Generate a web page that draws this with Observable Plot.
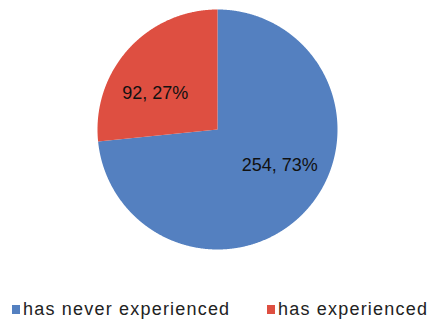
<!DOCTYPE html>
<html>
<head>
<meta charset="utf-8">
<script src="https://cdn.jsdelivr.net/npm/d3@7"></script>
<script src="https://cdn.jsdelivr.net/npm/@observablehq/plot@0.6"></script>
<style>
  html, body { margin: 0; padding: 0; background: #fff; }
  #wrap { position: relative; width: 429px; height: 321px; overflow: hidden; font-family: "Liberation Sans", Arial, sans-serif; }
  #chart svg { display: block; }
  .leg { position: absolute; top: 299px; display: flex; align-items: center; font-size: 18px; letter-spacing: 1.2px; color: #222; white-space: nowrap; }
  .sw { width: 8px; height: 9px; margin-right: 3px; }
</style>
</head>
<body>
<div id="wrap">
  <div id="chart"></div>
  <div id="legend"></div>
</div>
<script>
const categories = ["has never experienced", "has experienced"];
const counts = [254, 92];
const colors = ["#5480c0", "#de4f41"];
const legendX = [12, 267];

const total = d3.sum(counts);
const rows = categories.map((c, i) => ({cat: c, value: counts[i]}));
const arcs = d3.pie().sort(null).value(d => d.value).startAngle(0).endAngle(2 * Math.PI)(rows);

// slice outlines: center, then arc points
const pts = [];
for (const a of arcs) {
  pts.push({cat: a.data.cat, x: 0, y: 0});
  const n = Math.max(2, Math.ceil((a.endAngle - a.startAngle) / 0.005));
  for (let k = 0; k <= n; k++) {
    const t = a.startAngle + (a.endAngle - a.startAngle) * k / n;
    pts.push({cat: a.data.cat, x: Math.sin(t), y: Math.cos(t)});
  }
}

const labels = arcs.map(a => {
  const mid = (a.startAngle + a.endAngle) / 2 - 12 * Math.PI / 180;
  const r = 0.6;
  return {
    x: r * Math.sin(mid),
    y: r * Math.cos(mid),
    text: `${a.data.value}, ${Math.round(a.data.value / total * 100)}%`
  };
});

const chart = Plot.plot({
  width: 429,
  height: 270,
  marginLeft: 97,
  marginRight: 92,
  marginTop: 9,
  marginBottom: 21,
  x: {domain: [-1, 1], axis: null},
  y: {domain: [-1, 1], axis: null},
  color: {domain: categories, range: colors},
  marks: [
    Plot.line(pts, {x: "x", y: "y", z: "cat", fill: "cat", stroke: "none", curve: "linear"}),
    Plot.text(labels, {x: "x", y: "y", text: "text", fontSize: 18, fill: "#111", fontFamily: "Liberation Sans, Arial, sans-serif"})
  ]
});
document.getElementById("chart").appendChild(chart);

const leg = document.getElementById("legend");
categories.forEach((c, i) => {
  const d = document.createElement("div");
  d.className = "leg";
  d.style.left = legendX[i] + "px";
  const sw = document.createElement("span");
  sw.className = "sw";
  sw.style.background = colors[i];
  const t = document.createElement("span");
  t.textContent = c;
  d.appendChild(sw);
  d.appendChild(t);
  leg.appendChild(d);
});
</script>
</body>
</html>
